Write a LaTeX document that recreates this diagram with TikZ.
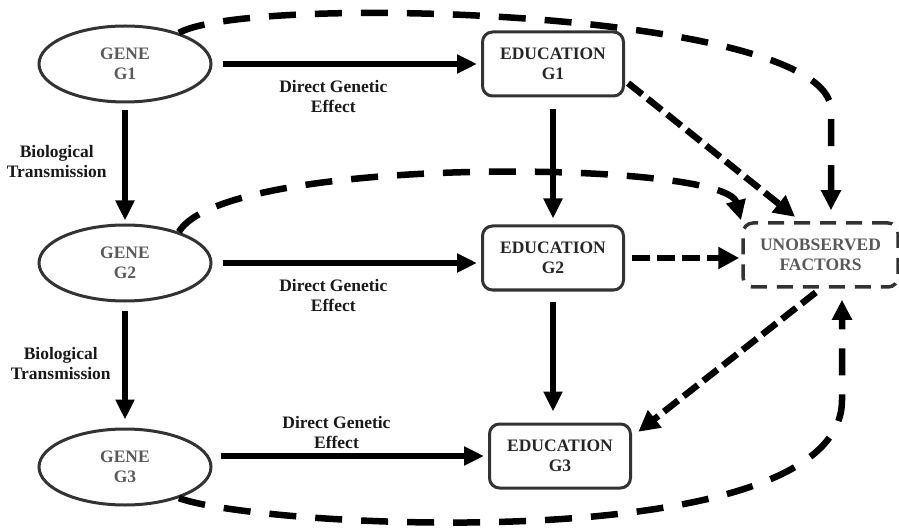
\documentclass[tikz,border=0pt]{standalone}
\usepackage{fontspec}
\setmainfont{Liberation Serif}
\usetikzlibrary{arrows.meta, shapes.geometric}
\tikzstyle{gene} = [ellipse, draw=black!80, line width=3pt, text=black!65,
    align=center, minimum width=172pt, minimum height=76pt, inner sep=0pt]
\tikzstyle{edu} = [rectangle, draw=black!80, line width=3pt, text=black!85,
    align=center, rounded corners=10pt, minimum width=141pt, minimum height=64pt]
\tikzstyle{unobs} = [rectangle, draw=black!80, line width=3.5pt, text=black!65,
    dash pattern=on 16pt off 10pt, align=center, rounded corners=10pt,
    minimum width=155pt, minimum height=64pt]

\begin{document}
\begin{tikzpicture}[
x = 1pt, y = 1pt,
font = \fontsize{17.5}{20}\selectfont\bfseries,
link/.style = {line width=6pt, -{Triangle[length=20pt,width=18pt]}},
dlink/.style = {line width=6.5pt, dash pattern=on 18pt off 7pt,
    -{Triangle[length=21pt,width=21pt]}},
clink/.style = {line width=6.5pt, dash pattern=on 27pt off 19pt,
    -{Triangle[length=20pt,width=19pt]}},
lab/.style = {align=center, text=black!90}
                        ]
\useasboundingbox (0,0) rectangle (899,528);

\node [gene] (g1) at (125,464) {GENE\\G1};
\node [gene] (g2) at (125,265) {GENE\\G2};
\node [gene] (g3) at (125,61) {GENE\\G3};
\node [edu] (e1) at (553,464) {EDUCATION\\G1};
\node [edu] (e2) at (553,270) {EDUCATION\\G2};
\node [edu] (e3) at (560,72) {EDUCATION\\G3};
\node [unobs] (uf) at (820.5,273) {UNOBSERVED\\FACTORS};

% genes to education
\draw [link, shorten <=10pt, shorten >=4pt] (g1) -- (e1)
    node [lab, below=10pt, pos=0.45] {Direct Genetic\\Effect};
\draw [link, shorten <=10pt, shorten >=4pt] (g2) -- (g2 -| e2.west)
    node [lab, below=10pt, pos=0.45] {Direct Genetic\\Effect};
\draw [link, shorten <=8pt, shorten >=4pt] (e3 -| g3.east) -- (e3)
    node [lab, above=1pt, pos=0.45] {Direct Genetic\\Effect};

% down the generations
\draw [link, shorten <=7pt, shorten >=3pt] (g1) -- (g2)
    node [lab, left=12pt, pos=0.48] {Biological\\Transmission};
\draw [link, shorten <=8pt, shorten >=8pt] (g2) -- (g3)
    node [lab, left=8pt, pos=0.49] {Biological\\Transmission};
\draw [link, shorten <=12pt, shorten >=6pt] (e1) -- (e2);
\draw [link, shorten <=10pt, shorten >=11pt] (e2.south) -- (e2.south |- e3.north);

% unobserved factors
\draw [dlink, shorten <=4pt, shorten >=7pt] (e1.-13) -- ([xshift=-20pt]uf.north);
\draw [dlink, shorten <=7pt, shorten >=2pt] (e2.east) -- (e2.east -| uf.west);
\draw [dlink, shorten <=6pt, shorten >=8pt] (uf.south) -- (e3.15);
\draw [clink, shorten >=11pt] (g1.30) .. controls (250,535) and (831,518) .. (831,418)
    -- ([xshift=10.5pt]uf.north);
\draw [clink, shorten >=1pt] (g2.30) .. controls (225,374) and (725,368) .. (uf.north west);
\draw [clink, shorten >=11pt] (g3.-30) .. controls (260,0) and (842,-32) .. (842,128)
    -- ([xshift=21.5pt]uf.south);
\end{tikzpicture}
\end{document}
